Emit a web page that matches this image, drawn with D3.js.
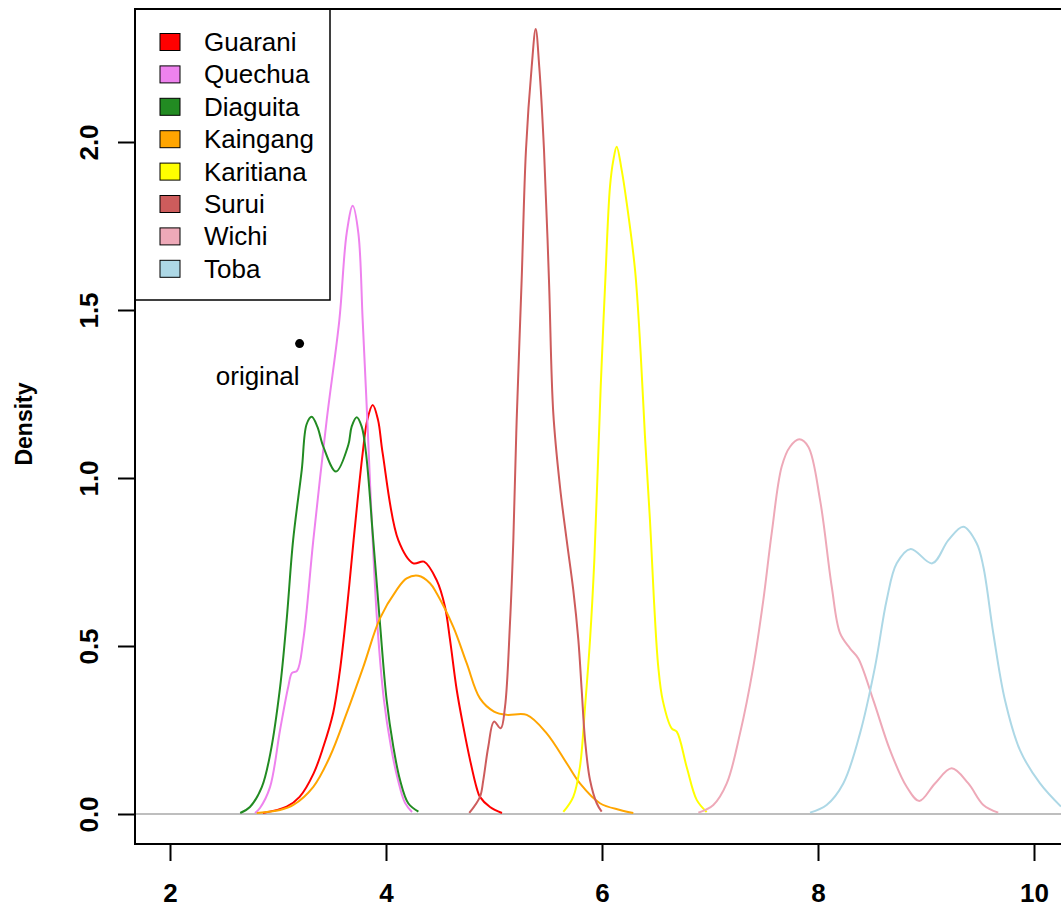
<!DOCTYPE html>
<html>
<head>
<meta charset="utf-8">
<script src="https://cdn.jsdelivr.net/npm/d3@7"></script>
<style>
  body { margin: 0; background: #fff; }
  text { font-family: "Liberation Sans", Arial, Helvetica, sans-serif; fill: #000; }
</style>
</head>
<body>
<script>
// density curves: [x, density]
var groups = ["Guarani", "Quechua", "Diaguita", "Kaingang", "Karitiana", "Surui", "Wichi", "Toba"];
var colors = ["#ff0000", "#ee82ee", "#228b22", "#ffa500", "#ffff00", "#cd5c5c", "#eea9b8", "#add8e6"];
var xTicks = [2, 4, 6, 8, 10];
var yTicks = [0, 0.5, 1, 1.5, 2];
var original = { x: 3.2, y: 1.4, label: "original" };

var guarani = [[2.86,0.003],[3.08,0.022],[3.20,0.051],[3.33,0.121],[3.42,0.200],[3.51,0.300],[3.57,0.419],
  [3.64,0.617],[3.70,0.815],[3.784,1.074],[3.827,1.173],[3.877,1.217],[3.926,1.173],[3.969,1.074],[4.114,0.815],
  [4.253,0.746],[4.352,0.751],[4.469,0.696],[4.546,0.617],[4.593,0.518],[4.655,0.369],[4.716,0.260],[4.778,0.161],
  [4.84,0.077],[4.87,0.051],[4.963,0.021],[5.074,0.003]];
var quechua = [[2.787,0.003],[2.833,0.018],[2.926,0.080],[3.019,0.250],[3.095,0.379],[3.13,0.420],[3.176,0.426],
  [3.234,0.518],[3.327,0.815],[3.451,1.173],[3.568,1.470],[3.636,1.729],[3.692,1.810],[3.744,1.729],[3.784,1.470],
  [3.827,1.173],[3.868,0.875],[3.917,0.577],[3.981,0.339],[4.046,0.200],[4.111,0.101],[4.176,0.033],[4.241,0.006]];
var diaguita = [[2.65,0.003],[2.74,0.021],[2.85,0.080],[2.93,0.182],[3.02,0.379],[3.08,0.577],[3.14,0.815],
  [3.22,1.024],[3.265,1.160],[3.312,1.182],[3.364,1.153],[3.42,1.093],[3.537,1.019],[3.651,1.098],[3.682,1.153],
  [3.729,1.181],[3.775,1.153],[3.815,1.074],[3.882,0.815],[3.944,0.568],[4.006,0.339],[4.068,0.200],[4.13,0.101],
  [4.206,0.032],[4.30,0.007]];
var kaingang = [[2.803,0.003],[3.019,0.012],[3.142,0.027],[3.327,0.081],[3.481,0.171],[3.636,0.300],[3.790,0.438],
  [3.944,0.582],[4.099,0.667],[4.191,0.701],[4.299,0.709],[4.407,0.687],[4.469,0.657],[4.623,0.557],[4.747,0.449],
  [4.870,0.344],[5.000,0.305],[5.118,0.295],[5.303,0.295],[5.488,0.240],[5.673,0.151],[5.796,0.091],[5.981,0.032],
  [6.167,0.012],[6.29,0.003]];
var karitiana = [[5.642,0.006],[5.734,0.051],[5.796,0.141],[5.843,0.319],[5.889,0.518],[5.929,0.756],[5.988,1.272],
  [6.028,1.569],[6.074,1.867],[6.105,1.946],[6.136,1.986],[6.182,1.917],[6.229,1.818],[6.306,1.619],[6.358,1.371],
  [6.398,1.123],[6.444,0.875],[6.481,0.637],[6.521,0.438],[6.562,0.339],[6.645,0.255],[6.692,0.245],[6.784,0.140],
  [6.877,0.042],[6.969,0.006]];
var surui = [[4.771,0.003],[4.870,0.051],[4.901,0.101],[4.947,0.200],[5.000,0.275],[5.062,0.255],[5.102,0.319],
  [5.148,0.568],[5.179,0.815],[5.210,1.173],[5.256,1.589],[5.296,1.976],[5.349,2.224],[5.386,2.336],[5.419,2.224],
  [5.463,1.976],[5.509,1.589],[5.549,1.193],[5.611,0.974],[5.673,0.815],[5.734,0.667],[5.781,0.518],[5.812,0.369],
  [5.843,0.220],[5.889,0.101],[5.951,0.032],[5.997,0.007]];
var wichi = [[6.892,0.004],[7.031,0.027],[7.155,0.091],[7.278,0.240],[7.401,0.438],[7.494,0.637],[7.571,0.835],
  [7.664,1.034],[7.741,1.093],[7.827,1.115],[7.910,1.093],[8.019,0.935],[8.127,0.677],[8.204,0.538],[8.296,0.493],
  [8.373,0.463],[8.512,0.339],[8.667,0.190],[8.821,0.081],[8.938,0.039],[9.083,0.091],[9.238,0.136],[9.392,0.091],
  [9.531,0.027],[9.669,0.004]];
var toba = [[7.926,0.004],[8.080,0.027],[8.234,0.091],[8.389,0.240],[8.528,0.438],[8.636,0.637],[8.729,0.746],
  [8.858,0.789],[9.058,0.746],[9.207,0.815],[9.345,0.855],[9.469,0.806],[9.531,0.736],[9.623,0.538],[9.731,0.339],
  [9.870,0.190],[10.056,0.091],[10.25,0.022]];

(function() {
    var width = 1061, height = 909;
    var box = { left: 135, top: 9, right: 1090, bottom: 844 };

    var svg = d3.select("body")
        .append("svg")
        .attr("width", width)
        .attr("height", height);

    var x = d3.scaleLinear().domain([2, 10]).range([170, 1034]);
    var y = d3.scaleLinear().domain([0, 2]).range([814, 142]);

    svg.append("clipPath")
        .attr("id", "plot-clip")
        .append("rect")
        .attr("x", box.left)
        .attr("y", box.top)
        .attr("width", box.right - box.left)
        .attr("height", box.bottom - box.top);

    var plotG = svg.append("g").attr("clip-path", "url(#plot-clip)");

    // zero line
    plotG.append("line")
        .attr("x1", box.left)
        .attr("x2", box.right)
        .attr("y1", y(0))
        .attr("y2", y(0))
        .attr("stroke", "#bebebe")
        .attr("stroke-width", 2);

    var series = [guarani, quechua, diaguita, kaingang, karitiana, surui, wichi, toba];

    var line = d3.line()
        .x(d => x(d[0]))
        .y(d => y(d[1]))
        .curve(d3.curveCatmullRom.alpha(0.5));

    plotG.selectAll(".density")
        .data(series)
        .enter()
        .append("path")
        .attr("class", "density")
        .attr("fill", "none")
        .attr("stroke", (d, i) => colors[i])
        .attr("stroke-width", 2)
        .attr("d", line);

    // axes
    var xAxis = d3.axisBottom(x).tickValues(xTicks).tickSize(17).tickFormat(d3.format("d"));
    var xG = svg.append("g")
        .attr("transform", `translate(0,${box.bottom})`)
        .call(xAxis);
    xG.select(".domain").remove();
    xG.selectAll(".tick line").attr("stroke", "#000").attr("stroke-width", 2);
    xG.selectAll(".tick text")
        .attr("y", 58)
        .attr("dy", 0)
        .style("font-size", "26px")
        .style("font-weight", "bold")
        .style("font-family", "'Liberation Sans', Arial, sans-serif");

    var yAxis = d3.axisLeft(y).tickValues(yTicks).tickSize(17).tickFormat(d3.format(".1f"));
    var yG = svg.append("g")
        .attr("transform", `translate(${box.left},0)`)
        .call(yAxis);
    yG.select(".domain").remove();
    yG.selectAll(".tick line").attr("stroke", "#000").attr("stroke-width", 2);
    yG.selectAll(".tick text")
        .attr("transform", "rotate(-90)")
        .attr("x", 0)
        .attr("y", -37)
        .attr("dy", 0)
        .attr("text-anchor", "middle")
        .style("font-size", "26px")
        .style("font-weight", "bold")
        .style("font-family", "'Liberation Sans', Arial, sans-serif");

    svg.append("text")
        .attr("text-anchor", "middle")
        .attr("transform", "translate(32,424) rotate(-90)")
        .style("font-size", "23px")
        .style("font-weight", "bold")
        .text("Density");

    // plot frame
    svg.append("rect")
        .attr("x", box.left)
        .attr("y", box.top)
        .attr("width", box.right - box.left)
        .attr("height", box.bottom - box.top)
        .attr("fill", "none")
        .attr("stroke", "#000")
        .attr("stroke-width", 2);

    // original point
    svg.append("circle")
        .attr("cx", x(original.x))
        .attr("cy", y(original.y))
        .attr("r", 4.5)
        .attr("fill", "#000");
    svg.append("text")
        .attr("x", x(original.x))
        .attr("y", y(original.y) + 41)
        .attr("text-anchor", "end")
        .style("font-size", "26px")
        .text(original.label);

    // legend
    var legend = svg.append("g").attr("class", "legend");
    legend.append("rect")
        .attr("x", box.left)
        .attr("y", box.top)
        .attr("width", 195)
        .attr("height", 291)
        .attr("fill", "#fff")
        .attr("stroke", "#000")
        .attr("stroke-width", 1.5);

    legend.selectAll(".key")
        .data(groups)
        .enter()
        .append("rect")
        .attr("class", "key")
        .attr("x", 160)
        .attr("y", (d, i) => 51 + i * 32.4 - 17.5)
        .attr("width", 20)
        .attr("height", 17)
        .attr("fill", (d, i) => colors[i])
        .attr("stroke", "#000")
        .attr("stroke-width", 1);

    legend.selectAll(".label")
        .data(groups)
        .enter()
        .append("text")
        .attr("class", "label")
        .attr("x", 204)
        .attr("y", (d, i) => 51 + i * 32.4)
        .style("font-size", "26px")
        .text(d => d);

    // redraw top/left frame edges over the legend box
    svg.append("path")
        .attr("d", `M${box.left},${box.bottom}V${box.top}H${box.right}`)
        .attr("fill", "none")
        .attr("stroke", "#000")
        .attr("stroke-width", 2);
})();
</script>
</body>
</html>
